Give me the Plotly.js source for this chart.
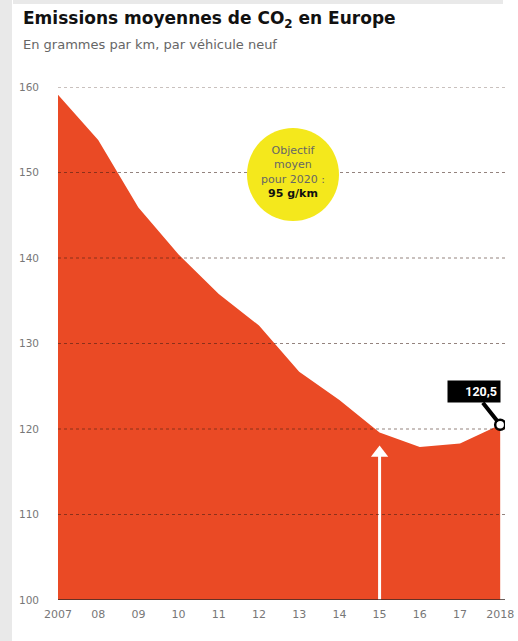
<!DOCTYPE html>
<html><head><meta charset="utf-8">
<script src="https://cdn.plot.ly/plotly-3.0.1.min.js"></script>
<style>html,body{margin:0;padding:0;background:#fff;}#chart{width:518px;height:641px;}</style>
</head><body><div id="chart"></div>
<script>
const years = [2007,2008,2009,2010,2011,2012,2013,2014,2015,2016,2017,2018];
const xLabels = ['2007','08','09','10','11','12','13','14','15','16','17','2018'];
const emissions = [159.1,153.8,145.9,140.4,135.8,132.1,126.7,123.4,119.6,117.9,118.3,120.5];
const yTicks = [100,110,120,130,140,150,160];
const lastLabel = '120,5';
const targetLines = ['Objectif','moyen','pour 2020 :'];
const targetValue = '95 g/km';
const arrowYear = [2015, 2015];
const arrowSpan = [100, 117.2];

const W = 518, H = 641, L = 58, R = 13, T = 87, B = 41;
const pw = W - L - R, ph = H - T - B;
const px = v => (v - L) / pw;
const py = v => (H - B - v) / ph;

const fill = '#ea4a25';
const shapes = [];
// background frame
shapes.push({type:'rect', xref:'paper', yref:'paper', x0:px(0), x1:px(12), y0:py(641), y1:py(0), fillcolor:'#e9e9e9', line:{width:0}, layer:'below'});
shapes.push({type:'rect', xref:'paper', yref:'paper', x0:px(13), x1:px(503), y0:py(4), y1:py(0), fillcolor:'#e9e9e9', line:{width:0}, layer:'below'});
// gridlines above the area
yTicks.forEach(v => {
  if (v === 100) {
    shapes.push({type:'line', xref:'paper', yref:'y', x0:0, x1:1, y0:v, y1:v, line:{color:'#3a2a26', width:1.5}, layer:'above'});
  } else {
    shapes.push({type:'line', xref:'paper', yref:'y', x0:0, x1:1, y0:v, y1:v, line:{color:'rgba(60,30,20,0.55)', width:1, dash:'dot'}, layer:'above'});
  }
});
// yellow circle
shapes.push({type:'circle', xref:'paper', yref:'paper', x0:px(247), x1:px(339), y0:py(221), y1:py(128), fillcolor:'#f4e81c', line:{width:0}, layer:'above'});

const annotations = [
  {xref:'paper', yref:'paper', x:px(21), y:py(19), xanchor:'left', yanchor:'middle', showarrow:false,
   text:'<b>Emissions moyennes de CO<sub>2</sub> en Europe</b>', font:{family:'"DejaVu Sans", sans-serif', size:17, color:'#111'}},
  {xref:'paper', yref:'paper', x:px(21), y:py(44), xanchor:'left', yanchor:'middle', showarrow:false,
   text:'En grammes par km, par véhicule neuf', font:{family:'"DejaVu Sans", sans-serif', size:13, color:'#666'}},
  {xref:'paper', yref:'paper', x:px(293), y:py(172), xanchor:'center', yanchor:'middle', showarrow:false,
   text: targetLines.join('<br>') + '<br><b><span style="color:#111">' + targetValue + '</span></b>',
   font:{family:'"DejaVu Sans", sans-serif', size:11, color:'#666'}},
  // callout label
  {xref:'x', yref:'y', x:years[11], y:emissions[11], ax:-26, ay:-33, showarrow:true, arrowhead:0, arrowwidth:4,
   arrowcolor:'#000', standoff:4, text:'<b>' + lastLabel + '</b>', bgcolor:'#000', borderpad:3,
   font:{family:'Roboto, sans-serif', size:12.5, color:'#fff'}, width:46, align:'right'}
];

const traces = [
  {x:years, y:emissions, type:'scatter', mode:'lines', fill:'tozeroy', fillcolor:fill, line:{width:0, color:fill}, hoverinfo:'skip'},
  {x:arrowYear, y:arrowSpan, type:'scatter', mode:'lines+markers', line:{color:'#ffffff', width:3},
   marker:{symbol:'triangle-up', size:[0,15], color:'#ffffff', opacity:1, line:{width:0}}, hoverinfo:'skip'},
  {x:[years[11]], y:[emissions[11]], type:'scatter', mode:'markers', marker:{size:10, color:'#fff', line:{color:'#000', width:2.5}}, hoverinfo:'skip'}
];

const layout = {
  width:W, height:H, margin:{l:L, r:R, t:T, b:B},
  paper_bgcolor:'#fff', plot_bgcolor:'#fff', showlegend:false,
  xaxis:{range:[2007, 2018.12], tickvals:years, ticktext:xLabels, showgrid:false, zeroline:false, showline:false,
         ticks:'', tickfont:{family:'"DejaVu Sans", sans-serif', size:11, color:'#777'}, ticklabelstandoff:6, fixedrange:true},
  yaxis:{range:[100,160], tickvals:yTicks, ticktext:yTicks.map(String), showgrid:false, zeroline:false, showline:false,
         ticks:'', tickfont:{family:'"DejaVu Sans", sans-serif', size:10.5, color:'#777'}, ticklabelstandoff:18, fixedrange:true},
  shapes:shapes, annotations:annotations
};
Plotly.newPlot('chart', traces, layout, {displayModeBar:false, staticPlot:true});
</script></body></html>
